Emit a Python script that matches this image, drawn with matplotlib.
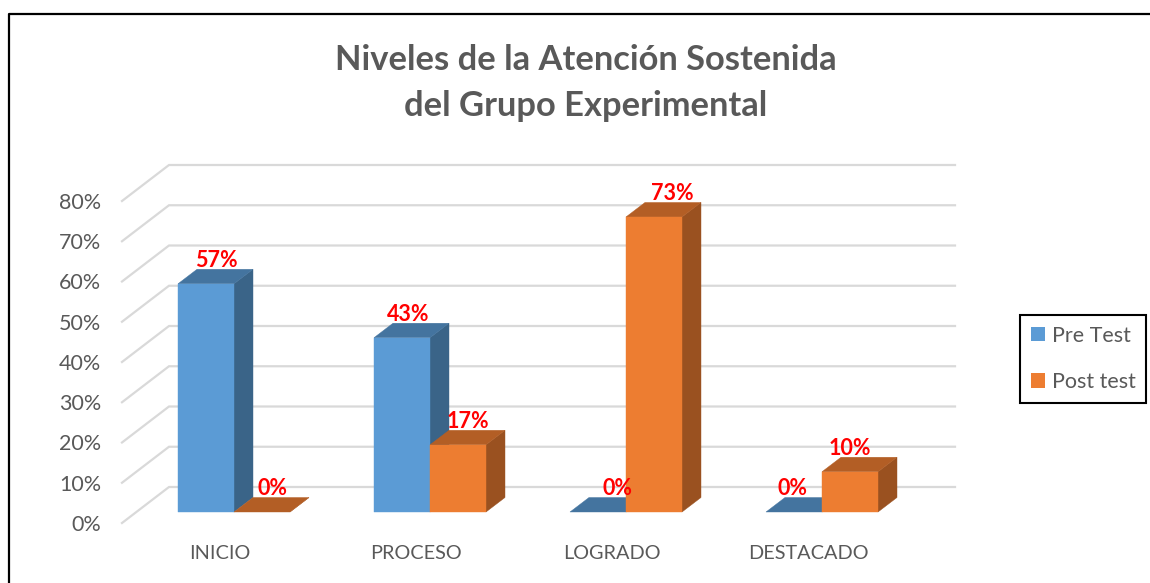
import matplotlib
matplotlib.use("Agg")
import matplotlib.pyplot as plt
from matplotlib.lines import Line2D
from matplotlib.patches import Patch, Polygon

categories = ["INICIO", "PROCESO", "LOGRADO", "DESTACADO"]
pre_test = [56.7, 43.3, 0, 0]
post_test = [0, 16.7, 73.3, 10]
y_ticks = [0, 10, 20, 30, 40, 50, 60, 70, 80]

W, H = 1150, 583
plt.rcParams["font.family"] = ["Lato", "DejaVu Sans"]
GRAY = "#595959"

fig = plt.figure(figsize=(W / 100, H / 100), dpi=100)
# axes = front plane of the fake 3D box
ax = fig.add_axes([122 / W, 1 - 523 / H, 784 / W, 322 / H])
ax.set_xlim(0, 4)
ax.set_ylim(0, 80)
for s in ax.spines.values():
    s.set_visible(False)
ax.patch.set_alpha(0)

# pixel sizes turned into data units for the oblique depth
px_x = 4 / 784
px_y = 80 / 322
wall_dx, wall_dy = 47 * px_x, 36 * px_y
bar_dx0, bar_dy0 = 14 * px_x, 11 * px_y
bar_dx, bar_dy = 19 * px_x, 14.5 * px_y
bar_w = 56 * px_x

# the labels were dragged by hand in the original, (series, category): pixels
label_nudge = {
    (0, 0): (1, 0), (0, 1): (-3, 0), (0, 2): (10, 0), (0, 3): (-11, 0),
    (1, 0): (1, 0), (1, 1): (0, 0), (1, 2): (9, 0), (1, 3): (-10, 0),
}


def box(x, v, front, top, side, z, key):
    x0 = x + bar_dx0
    y0 = bar_dy0
    y1 = y0 + v
    x1 = x0 + bar_w
    ax.add_patch(Polygon([(x1, y0), (x1 + bar_dx, y0 + bar_dy), (x1 + bar_dx, y1 + bar_dy), (x1, y1)],
                         fc=side, ec=side, lw=0.3, zorder=z, clip_on=False))
    ax.add_patch(Polygon([(x0, y1), (x1, y1), (x1 + bar_dx, y1 + bar_dy), (x0 + bar_dx, y1 + bar_dy)],
                         fc=top, ec=top, lw=0.3, zorder=z, clip_on=False))
    if v > 0:
        ax.add_patch(Polygon([(x0, y0), (x1, y0), (x1, y1), (x0, y1)],
                             fc=front, ec=front, lw=0.3, zorder=z + 0.1, clip_on=False))
    nudge = label_nudge[key]
    ax.annotate(f"{v:.0f}%", (x0 + bar_w / 2 + bar_dx / 2, y1 + bar_dy),
                xytext=(nudge[0] * 0.72, -1), textcoords="offset points", ha="center", va="bottom",
                color="#FF0000", fontsize=15.5, fontweight="bold", zorder=10, annotation_clip=False)


for t in y_ticks:
    ax.plot([0, wall_dx, 4 + wall_dx + 2 * px_x], [t, t + wall_dy, t + wall_dy], color="#D9D9D9",
            lw=1.6, zorder=1, clip_on=False, solid_joinstyle="miter")

for i in range(len(categories)):
    c = i + 0.5 - bar_w
    box(c, pre_test[i], "#5B9BD5", "#44749F", "#3A6488", 3 + i, (0, i))
    box(c + bar_w, post_test[i], "#ED7D31", "#B35E25", "#9A5120", 3.5 + i, (1, i))

ax.set_xticks([i + 0.5 for i in range(len(categories))], categories)
ax.set_yticks(y_ticks, [f"{t}%" for t in y_ticks])
ax.tick_params(axis="x", length=0, pad=16, labelsize=14.3, labelcolor=GRAY)
ax.tick_params(axis="y", length=0, pad=15, labelsize=15.5, labelcolor=GRAY)

fig.text(586 / W, 1 - 83 / H, "Niveles de la Atención Sostenida\ndel Grupo Experimental", ha="center",
         va="center", fontsize=24.8, fontweight="bold", color=GRAY, linespacing=1.5)

handles = [Patch(fc="#5B9BD5", label="Pre Test"), Patch(fc="#ED7D31", label="Post test")]
fig.legend(handles=handles, loc="center", bbox_to_anchor=(1083 / W, 1 - 359 / H), frameon=True,
           fancybox=False, edgecolor="black", framealpha=1, fontsize=15.5, labelcolor=GRAY,
           handlelength=0.65, handleheight=0.65, handletextpad=0.33, labelspacing=1.22,
           borderpad=0.5, borderaxespad=0).get_frame().set_linewidth(1.5)

# outer chart border, runs off the image at right and bottom
fig.add_artist(Line2D([9 / W, 9 / W, 1], [0, 1 - 14 / H, 1 - 14 / H], color="black", lw=1.6))

fig.savefig("out.png", dpi=100)
